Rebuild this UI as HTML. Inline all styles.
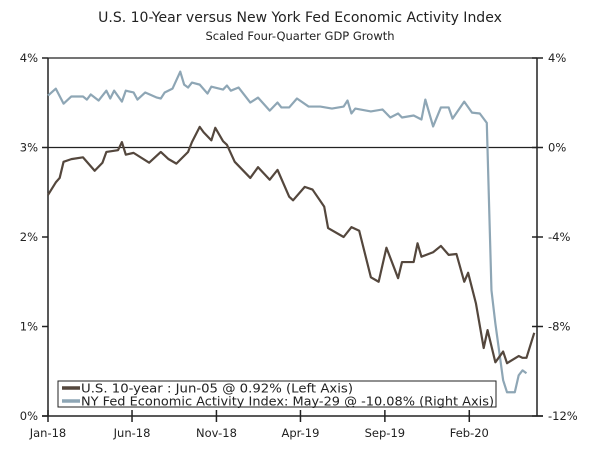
<!DOCTYPE html>
<html><head><meta charset="utf-8"><style>
body{margin:0;background:#fff;}
svg{display:block;font-family:"DejaVu Sans","Liberation Sans",sans-serif;}
</style></head><body>
<svg id="chart" width="600" height="450">
<text x="300" y="22" text-anchor="middle" font-size="14" fill="#222">U.S. 10-Year versus New York Fed Economic Activity Index</text>
<text x="300" y="40" text-anchor="middle" font-size="11.5" fill="#222">Scaled Four-Quarter GDP Growth</text>
<g id="axes"></g>
<g id="series"></g>
<g>
<rect x="58" y="381" width="438" height="26" fill="#fff" stroke="#222" stroke-width="1"/>
<line x1="62" y1="388" x2="80" y2="388" stroke="#54473d" stroke-width="3.5"/>
<text x="81" y="392.5" font-size="12" textLength="272" lengthAdjust="spacingAndGlyphs" fill="#222">U.S. 10-year : Jun-05 @ 0.92% (Left Axis)</text>
<line x1="62" y1="401" x2="80" y2="401" stroke="#8ea6b5" stroke-width="3.5"/>
<text x="81" y="405.5" font-size="12" textLength="413" lengthAdjust="spacingAndGlyphs" fill="#222">NY Fed Economic Activity Index: May-29 @ -10.08% (Right Axis)</text>
</g>
</svg>
<script>
const usWeeks=[0,2,3,4,6,9,12,14,15,18,19,20,22,26,29,31,33,36,37,39,40,42,43,45,46,48,52,54,57,59,62,63,66,68,71,72,76,78,80,83,85,87,90,91,94,95,96,99,101,103,105,107,108,110,112,113,115,117,118,121,122,123,125];
const usValues=[2.47,2.61,2.66,2.84,2.87,2.89,2.74,2.83,2.95,2.97,3.06,2.92,2.94,2.83,2.95,2.87,2.82,2.95,3.06,3.23,3.17,3.08,3.22,3.07,3.03,2.84,2.66,2.78,2.64,2.75,2.45,2.41,2.56,2.53,2.34,2.10,2.00,2.11,2.07,1.55,1.50,1.88,1.54,1.72,1.72,1.93,1.78,1.83,1.90,1.80,1.81,1.50,1.60,1.26,0.76,0.96,0.60,0.72,0.59,0.67,0.65,0.65,0.93];
const nyWeeks=[0,2,4,6,9,10,11,13,15,16,17,19,20,22,23,25,28,29,30,32,34,35,36,37,39,41,42,45,46,47,49,52,54,57,59,60,62,64,67,70,73,76,77,78,79,83,86,88,90,91,94,96,97,99,101,103,104,107,109,111,112.8,114,115,117,118,120,121,122,123];
const nyValues=[2.32,2.63,1.96,2.28,2.28,2.14,2.37,2.10,2.54,2.19,2.54,2.05,2.54,2.46,2.14,2.46,2.23,2.19,2.46,2.63,3.39,2.81,2.68,2.90,2.81,2.41,2.72,2.59,2.77,2.54,2.68,2.01,2.23,1.65,2.01,1.79,1.79,2.19,1.83,1.83,1.74,1.83,2.10,1.52,1.74,1.61,1.70,1.34,1.52,1.34,1.43,1.25,2.14,0.94,1.79,1.79,1.29,2.05,1.56,1.52,1.10,-6.38,-7.86,-10.4,-10.94,-10.94,-10.18,-9.96,-10.09];
const leftTicks=[0,1,2,3,4];
const rightTicks=[4,0,-4,-8,-12];
const xTickLabels=["Jan-18","Jun-18","Nov-18","Apr-19","Sep-19","Feb-20"];
const xTickWeeks=[0,21.6,43.3,64.9,86.6,108.3];

const X0=48,X1=537,Y0=416,Y1=58,WPX=3.89;
const xs=w=>X0+w*WPX;
const yL=v=>Y0-(v/4)*(Y0-Y1);
const yR=v=>Y0-((v+12)/16)*(Y0-Y1);
const NS="http://www.w3.org/2000/svg";
function mk(tag,attrs,parent){const e=document.createElementNS(NS,tag);for(const k in attrs)e.setAttribute(k,attrs[k]);parent.appendChild(e);return e;}
const ax=document.getElementById('axes');
let e;
e=mk('line',{x1:X0,y1:Y1,x2:X1,y2:Y1,stroke:'#222','stroke-width':1.2},ax);


e=mk('line',{x1:X0,y1:yL(3),x2:X1,y2:yL(3),stroke:'#222','stroke-width':1.2},ax);


e=mk('line',{x1:X0,y1:Y1,x2:X0,y2:Y0,stroke:'#222','stroke-width':1.5},ax);


e=mk('line',{x1:X1,y1:Y1,x2:X1,y2:Y0,stroke:'#222','stroke-width':1.5},ax);


e=mk('line',{x1:X0-6,y1:Y0,x2:X1+6,y2:Y0,stroke:'#222','stroke-width':1.5},ax);


leftTicks.forEach(v=>{
  mk('line',{x1:X0-6,y1:yL(v),x2:X0,y2:yL(v),stroke:'#222','stroke-width':1.5},ax);
  const t=mk('text',{x:X0-10,y:yL(v)+4,'text-anchor':'end','font-size':11.5,fill:'#222'},ax);
  t.textContent=v+'%';
  
  
});
rightTicks.forEach(v=>{
  mk('line',{x1:X1-5,y1:yR(v),x2:X1+6,y2:yR(v),stroke:'#222','stroke-width':1.5},ax);
  const t=mk('text',{x:X1+11,y:yR(v)+4,'font-size':11.5,fill:'#222'},ax);
  t.textContent=v+'%';
  
  
});
xTickLabels.forEach((l,i)=>{
  const x=xs(xTickWeeks[i]);
  mk('line',{x1:x,y1:Y0-6,x2:x,y2:Y0+6,stroke:'#222','stroke-width':1.5},ax);
  const t=mk('text',{x:x,y:Y0+21,'text-anchor':'middle','font-size':11.5,fill:'#222'},ax);
  t.textContent=l;
  
  
});
const sg=document.getElementById('series');
const p1=mk('polyline',{points:nyWeeks.map((w,i)=>xs(w)+','+yR(nyValues[i])).join(' '),fill:'none',stroke:'#8ea6b5','stroke-width':2.2,'stroke-linejoin':'round'},sg);


const p2=mk('polyline',{points:usWeeks.map((w,i)=>xs(w)+','+yL(usValues[i])).join(' '),fill:'none',stroke:'#54473d','stroke-width':2.2,'stroke-linejoin':'round'},sg);


</script>
</body></html>
